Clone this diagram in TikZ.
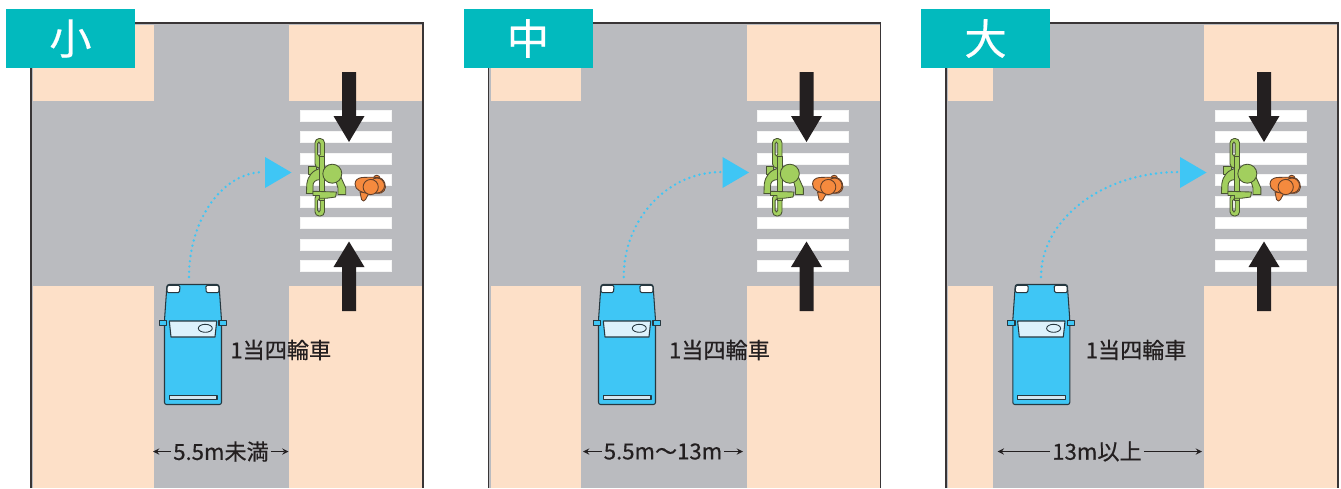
\documentclass[tikz,border=0pt]{standalone}
\usepackage{fontspec}
\setmainfont[FakeBold=0.5]{Noto Sans CJK JP}
\definecolor{road}{HTML}{BABBBF}
\definecolor{land}{HTML}{FDE0C8}
\definecolor{tabcol}{HTML}{02BABE}
\definecolor{sky}{HTML}{3FC6F5}
\definecolor{glass}{HTML}{DDF2FC}
\definecolor{ink}{HTML}{231F20}
\definecolor{rider}{HTML}{A2CF5E}
\definecolor{walker}{HTML}{F58A3E}
\tikzset{
  block/.style={fill=land},
  stripe/.style={fill=white,draw=white!85!road,line width=0.3pt},
  bigarrow/.style={fill=ink},
  tabbox/.style={fill=tabcol,text=white,minimum width=129*0.02cm,minimum height=59*0.02cm,inner sep=0pt,font=\fontsize{24}{24}\selectfont},
  label/.style={text=ink,inner sep=0pt,font=\fontsize{12.6}{12.6}\selectfont},
  width/.style={text=ink,inner sep=1pt,font=\fontsize{12.6}{12.6}\selectfont},
  carline/.style={draw=ink!85!sky,line width=0.6pt,line join=round},
  riderline/.style={fill=rider,draw=ink!70!rider,line width=0.5pt,line join=round},
  walkerline/.style={fill=walker,draw=ink!70!walker,line width=0.5pt,line join=round},
}
\begin{document}
\begin{tikzpicture}[x=0.02cm,y=-0.02cm,>=stealth]
    \useasboundingbox (0,0) rectangle (1341,488);
    % one junction per road width
    \foreach \p/\dx/\roadl/\carx/\labelx/\turnx/\bend/\wl/\wr/\wx/\tabname/\wname in {
        small/0/154/193/230/189/41/153/288.5/221/小/5.5m未満,
        mid/457.5/123.5/169.5/211.2/166.2/54/125.5/285.5/205.5/中/5.5m〜13m,
        large/915/78/126.3/170.3/126/76/82.7/287/182/大/13m以上}
    {
    \begin{scope}[xshift={\dx*0.02cm}]
        % ground
        \fill[road] (31,23) rectangle (423,488);
        \fill[block] (33,25) rectangle (\roadl,101);
        \fill[block] (289,25) rectangle (422,101);
        \fill[block] (33,286) rectangle (\roadl,488);
        \fill[block] (289,286) rectangle (422,488);
        \draw[ink!90!white,line width=0.6pt] (31,488) -- (31,23) -- (423,23) -- (423,488);
        % crossing
        \foreach \y in {110,131.5,153,174.5,196,217.5,239,260.5}
            \filldraw[stripe] (300,\y) rectangle (391,\y+11);
        \fill[bigarrow] (342,72) -- (356,72) -- (356,116) -- (364.5,116) -- (349,142) -- (333.5,116) -- (342,116) -- cycle;
        \fill[bigarrow] (342,311) -- (356,311) -- (356,267) -- (364.5,267) -- (349,241.5) -- (333.5,267) -- (342,267) -- cycle;
        % cyclist
        \filldraw[riderline] (308.5,166) rectangle (316,174);
        \filldraw[riderline,even odd rule,rounded corners=2.4pt] (315,138.5) rectangle (324.5,168)
            [rounded corners=0.9pt] (317.6,142) rectangle (320.2,156);
        \filldraw[riderline,even odd rule,rounded corners=2.4pt] (315,194) rectangle (324.5,216)
            [rounded corners=0.9pt] (317.6,199) rectangle (320.2,212);
        \filldraw[riderline] (306.4,193.5) -- (306.8,184) .. controls (308,176) and (312,170) .. (322,168) -- (332,168) -- (332,179) -- (320,179.5) .. controls (315,180) and (313,182) .. (313,186) -- (313,193.5) -- cycle;
        \filldraw[riderline] (335,178) -- (340,175) -- (345.8,188) -- (345.8,194.5) -- (338,194.5) -- (338,188) -- cycle;
        \filldraw[riderline] (319.5,156) rectangle (324.5,200);
        \filldraw[riderline] (313,191.3) -- (336.5,192) -- (335.5,197) -- (326,198.3) -- (319.5,198.3) -- (319.5,195.5) -- (313,195.5) -- cycle;
        \filldraw[riderline] (332.3,173.7) circle[radius=9.5];
        % pedestrian
        \filldraw[walkerline] (360,192) -- (361.5,199.5) .. controls (362.5,201.5) and (364.5,201.5) .. (365.5,199.5) -- (369,193) -- cycle;
        \filldraw[walkerline] (376.7,178.5) circle[radius=3.3];
        \filldraw[walkerline] (362,177.5) .. controls (372,177) and (380,177) .. (382,179) .. controls (387,184) and (386.5,191) .. (381,193) -- (369,193.5) .. controls (362,193) and (355,190) .. (355,184) .. controls (355,180) and (358,178) .. (362,177.5) -- cycle;
        \filldraw[walkerline] (377,185.5) circle[radius=7.5];
        \filldraw[walkerline] (370.7,187) circle[radius=7.6];
        % turning path
        \coordinate (turnstart\p) at (\turnx,277);
        \coordinate (turnend\p) at (264,172);
        \draw[sky,line width=1.5pt,line cap=round,dash pattern=on 0pt off 3pt] (turnstart\p) .. controls +(0,-58) and +(-\bend,0) .. (turnend\p);
        \fill[sky] (265,157) -- (291.5,172.5) -- (265,188) -- cycle;
        % vehicle
        \begin{scope}[xshift={(\carx-193)*0.02cm}]
            \filldraw[fill=sky,carline,rounded corners=1.2pt] (167,284.5) -- (219,284.5) -- (221.5,320) -- (221.5,404.5) -- (164.5,404.5) -- (164.5,320) -- cycle;
            \filldraw[fill=white,carline,rounded corners=0.8pt] (167.3,285.3) -- (180,285.3) -- (179.5,292.7) -- (167,292.7) -- cycle;
            \filldraw[fill=white,carline,rounded corners=0.8pt] (205.8,285.3) -- (218.7,285.3) -- (219,292.7) -- (206.3,292.7) -- cycle;
            \filldraw[fill=sky,carline] (159.3,320.7) rectangle (166.7,325.7);
            \filldraw[fill=sky,carline] (219,320.7) rectangle (226.3,325.7);
            \filldraw[fill=glass,carline] (169.3,321) -- (216.7,321) -- (215,337) -- (171,337) -- cycle;
            \draw[carline,line width=0.5pt] (205.3,328.3) ellipse[x radius=7,y radius=4];
            \filldraw[fill=glass!80!road,carline] (169.5,395.7) rectangle (217,399.7);
        \end{scope}
        \node (carlabel\p) [label,anchor=west] at (\labelx,350) {1当四輪車};
        % road width
        \node (width\p) [width] at (\wx,451.5) {\wname};
        \coordinate (widthl\p) at (\wl,451.5);
        \coordinate (widthr\p) at (\wr,451.5);
        \draw[->,ink,line width=0.6pt] (width\p) -- (widthl\p);
        \draw[->,ink,line width=0.6pt] (width\p) -- (widthr\p);
        % heading
        \node (tab\p) [tabbox] at (70.5,38.5) {\tabname};
    \end{scope}
    }
\end{tikzpicture}
\end{document}
